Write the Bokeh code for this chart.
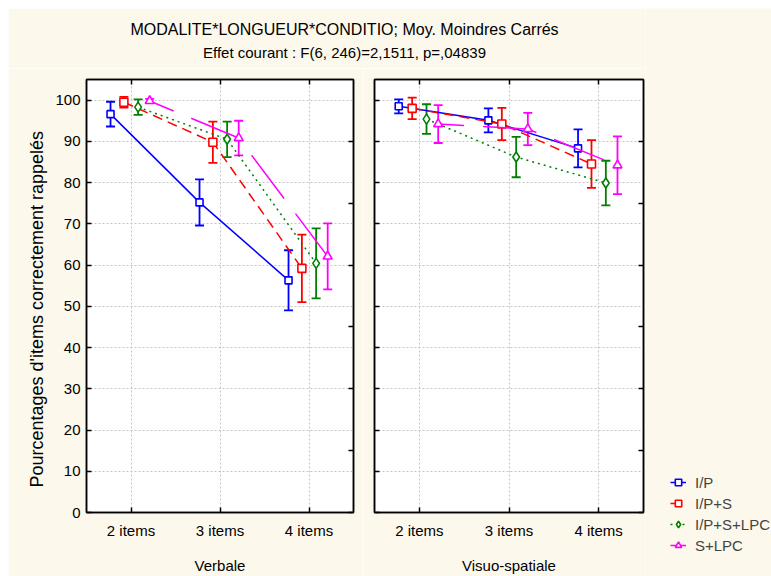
from bokeh.plotting import figure
from bokeh.models import (ColumnDataSource, FixedTicker, LinearAxis, Range1d,
                          Whisker, TeeHead, Legend, LegendItem, Title)
from bokeh.layouts import column, row
from bokeh.embed import file_html
from bokeh.resources import INLINE

# ---------------- data ----------------
lengths = ["2 items", "3 items", "4 items"]
conditions = ["I/P", "I/P+S", "I/P+S+LPC", "S+LPC"]
panels = ["Verbale", "Visuo-spatiale"]
y_title = "Pourcentages d'items correctement rappelés"

verb_ip = [96.6, 75.2, 56.3]
verb_ip_err = [3.0, 5.6, 7.3]
verb_ips = [99.5, 89.8, 59.2]
verb_ips_err = [1.3, 5.0, 8.2]
verb_ipsl = [98.3, 90.5, 60.4]
verb_ipsl_err = [1.9, 4.3, 8.5]
verb_sl = [99.8, 90.8, 62.1]
verb_sl_err = [0.5, 4.2, 8.0]

vis_ip = [98.5, 95.1, 88.3]
vis_ip_err = [1.7, 2.9, 4.6]
vis_ips = [98.0, 94.2, 84.5]
vis_ips_err = [2.6, 3.9, 5.8]
vis_ipsl = [95.4, 86.2, 79.9]
vis_ipsl_err = [3.6, 4.9, 5.4]
vis_sl = [94.2, 93.0, 84.2]
vis_sl_err = [4.6, 3.9, 7.0]

y_ticks = [0, 10, 20, 30, 40, 50, 60, 70, 80, 90, 100]
right_ticks = [0, 15, 30, 45, 60, 75, 90]

# ---------------- styles ----------------
FONT = "Liberation Sans"
CREAM = "#FCF8EC"
colors = ["#0000FF", "#FF0000", "#008000", "#FF00FF"]
dashes = ["solid", "10 6", "2 4", "54 19"]
dash_offsets = [0, 0, 0, 28]
markers = ["square", "square", "diamond", "triangle"]
msizes = [7, 8, 10, 9]
offsets = [-0.23, -0.08, 0.08, 0.21]
cat_pos = [1, 2, 3]


def style_fig(p, show_y_labels):
    p.background_fill_color = "white"
    p.border_fill_color = CREAM
    p.outline_line_color = "black"
    p.outline_line_width = 1.5
    p.x_range = Range1d(0.5, 3.5)
    p.y_range = Range1d(0, 105)

    xa = p.below[0]
    ya = p.left[0]
    xa.ticker = FixedTicker(ticks=cat_pos)
    xa.major_label_overrides = {pos: lab for pos, lab in zip(cat_pos, lengths)}
    ya.ticker = FixedTicker(ticks=y_ticks)

    for ax in (xa, ya):
        ax.major_tick_in = 5
        ax.major_tick_out = 0
        ax.minor_tick_line_color = None
        ax.axis_line_width = 1.5
        ax.axis_line_color = "black"
        ax.major_tick_line_width = 1.5
        ax.major_label_text_font = FONT
        ax.major_label_text_font_size = "15px"
        ax.major_label_text_color = "black"
        ax.axis_label_text_font = FONT
        ax.axis_label_text_font_size = "15px"
        ax.axis_label_text_font_style = "normal"
        ax.axis_label_text_color = "black"

    xa.major_label_standoff = 9
    xa.axis_label_standoff = 15
    if show_y_labels:
        ya.major_label_standoff = 6
    else:
        ya.major_label_text_font_size = "0px"
        ya.major_label_standoff = 0

    top = LinearAxis(ticker=FixedTicker(ticks=cat_pos))
    right = LinearAxis(ticker=FixedTicker(ticks=right_ticks))
    for ax in (top, right):
        ax.major_tick_in = 5
        ax.major_tick_out = 0
        ax.major_tick_line_width = 1.5
        ax.minor_tick_line_color = None
        ax.axis_line_width = 1.5
        ax.major_label_text_font_size = "0px"
        ax.major_label_standoff = 0
    p.add_layout(top, "above")
    p.add_layout(right, "right")

    p.xgrid.ticker = FixedTicker(ticks=cat_pos)
    p.ygrid.ticker = FixedTicker(ticks=y_ticks)
    for g in (p.xgrid[0], p.ygrid[0]):
        g.grid_line_color = "#C4C4C4"
        g.grid_line_dash = "2 2"
        g.grid_line_width = 1
    return xa, ya


def draw_series(p, means, errs):
    for k in range(len(conditions)):
        xs = [c + offsets[k] for c in cat_pos]
        m = means[k]
        e = errs[k]
        src = ColumnDataSource(dict(
            x=xs, y=m,
            upper=[a + b for a, b in zip(m, e)],
            lower=[a - b for a, b in zip(m, e)]))
        w = Whisker(source=src, base="x", upper="upper", lower="lower",
                    dimension="height", line_color=colors[k], line_width=1.8,
                    upper_head=TeeHead(size=9, line_color=colors[k], line_width=1.8),
                    lower_head=TeeHead(size=9, line_color=colors[k], line_width=1.8))
        p.add_layout(w)
        p.line("x", "y", source=src, line_color=colors[k], line_width=1.5,
               line_dash=dashes[k], line_dash_offset=dash_offsets[k])
        p.scatter("x", "y", source=src, marker=markers[k], size=msizes[k],
                  line_color=colors[k], line_width=1.6, fill_color="white")


# ---------------- header ----------------
head = figure(width=637, height=60, output_backend="svg", toolbar_location=None,
              x_range=Range1d(0, 1), y_range=Range1d(0, 1),
              x_axis_location=None, y_axis_location=None,
              min_border_left=35, min_border_right=0, min_border_top=54,
              min_border_bottom=0)
head.grid.visible = False
head.outline_line_color = None
head.background_fill_color = CREAM
head.border_fill_color = CREAM
t2 = Title(text="Effet courant : F(6, 246)=2,1511, p=,04839", align="center",
           text_font=FONT, text_font_size="15px", text_font_style="normal",
           text_color="black", standoff=4)
t1 = Title(text="MODALITE*LONGUEUR*CONDITIO; Moy. Moindres Carrés", align="center",
           text_font=FONT, text_font_size="16px", text_font_style="normal",
           text_color="black", standoff=4)
head.add_layout(t2, "above")
head.add_layout(t1, "above")

# ---------------- panels ----------------
p1 = figure(width=355, height=508, output_backend="svg", toolbar_location=None,
            min_border_left=78, min_border_right=10, min_border_top=11,
            min_border_bottom=64)
xa1, ya1 = style_fig(p1, True)
xa1.axis_label = panels[0]
ytitle = Title(text=y_title, align="left", offset=25, standoff=12,
               text_font=FONT, text_font_size="18px", text_font_style="normal",
               text_color="black")
p1.add_layout(ytitle, "left")
draw_series(p1, [verb_ip, verb_ips, verb_ipsl, verb_sl],
            [verb_ip_err, verb_ips_err, verb_ipsl_err, verb_sl_err])

p2 = figure(width=282, height=508, output_backend="svg", toolbar_location=None,
            min_border_left=11, min_border_right=2, min_border_top=11,
            min_border_bottom=64)
xa2, ya2 = style_fig(p2, False)
xa2.axis_label = panels[1]
draw_series(p2, [vis_ip, vis_ips, vis_ipsl, vis_sl],
            [vis_ip_err, vis_ips_err, vis_ipsl_err, vis_sl_err])

# ---------------- legend panel ----------------
lg = figure(width=126, height=568, output_backend="svg", toolbar_location=None,
            x_axis_location=None, y_axis_location=None,
            x_range=Range1d(0, 1), y_range=Range1d(0, 1),
            min_border_left=0, min_border_right=0, min_border_top=0,
            min_border_bottom=0)
lg.grid.visible = False
lg.outline_line_color = None
lg.background_fill_color = CREAM
lg.border_fill_color = CREAM
items = []
for k in range(len(conditions)):
    swatch = ColumnDataSource(dict(x=[float("nan")], y=[float("nan")]))
    ln = lg.line("x", "y", source=swatch, line_color=colors[k], line_width=1.5,
                 line_dash=dashes[k] if k != 3 else "solid")
    sc = lg.scatter("x", "y", source=swatch, marker=markers[k], size=msizes[k],
                    line_color=colors[k], line_width=1.6, fill_color="white")
    items.append(LegendItem(label=conditions[k], renderers=[ln, sc]))
legend = Legend(items=items, location=(25, 21), orientation="vertical",
                background_fill_alpha=0, border_line_alpha=0,
                label_text_font=FONT, label_text_font_size="15px",
                glyph_width=16, glyph_height=20, label_height=20,
                spacing=1, padding=0, margin=0, label_standoff=9)
lg.add_layout(legend)

layout = row(column(head, row(p1, p2)), lg, margin=(8, 0, 0, 8))
open("out.html", "w").write(file_html(layout, INLINE))
